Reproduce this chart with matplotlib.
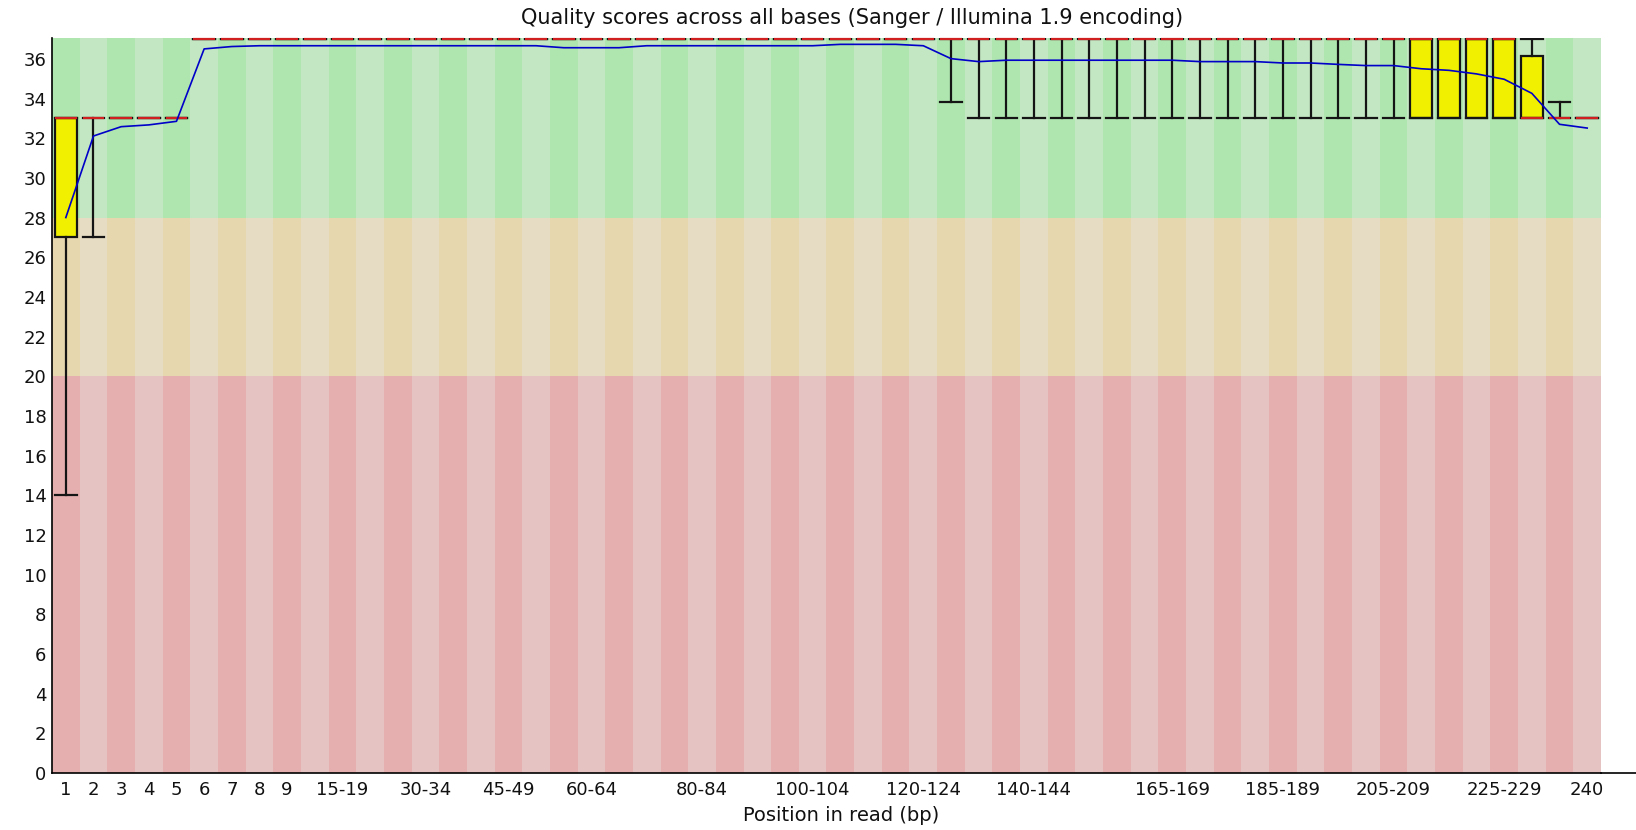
import matplotlib
matplotlib.use('Agg')
import matplotlib.pyplot as plt
from matplotlib.patches import Rectangle
from matplotlib.lines import Line2D

# position groups along the read
positions = ['1', '2', '3', '4', '5', '6', '7', '8', '9',
             '10-14', '15-19', '20-24', '25-29', '30-34', '35-39', '40-44', '45-49',
             '50-54', '55-59', '60-64', '65-69', '70-74', '75-79', '80-84', '85-89',
             '90-94', '95-99', '100-104', '105-109', '110-114', '115-119', '120-124',
             '125-129', '130-134', '135-139', '140-144', '145-149', '150-154', '155-159',
             '160-164', '165-169', '170-174', '175-179', '180-184', '185-189', '190-194',
             '195-199', '200-204', '205-209', '210-214', '215-219', '220-224', '225-229',
             '230-234', '235-239', '240']

# labels that fastqc actually printed on the x axis
shown = ['1', '2', '3', '4', '5', '6', '7', '8', '9', '15-19', '30-34', '45-49', '60-64',
         '80-84', '100-104', '120-124', '140-144', '165-169', '185-189', '205-209',
         '225-229', '240']

mean_q = [28.0, 32.11, 32.58, 32.67, 32.85, 36.5, 36.62, 36.66, 36.66, 36.66,
          36.66, 36.66, 36.66, 36.66, 36.66, 36.66, 36.66, 36.66, 36.56, 36.56,
          36.56, 36.66, 36.66, 36.66, 36.66, 36.66, 36.66, 36.66, 36.73, 36.73,
          36.73, 36.66, 36.01, 35.86, 35.93, 35.93, 35.93, 35.93, 35.93, 35.93,
          35.93, 35.86, 35.86, 35.86, 35.79, 35.79, 35.72, 35.66, 35.66, 35.5,
          35.42, 35.24, 34.97, 34.26, 32.70, 32.51]

median_q = [33] * 5 + [37] * 48 + [33] * 3
lower_q = [27] + [33] * 4 + [37] * 44 + [33] * 7
upper_q = [33] * 5 + [37] * 48 + [36.14, 33, 33]
low_whisk = [14, 27, 33, 33, 33] + [37] * 27 + [33.8] + [33] * 23
high_whisk = [33] * 5 + [37] * 49 + [33.8, 33]

# fastqc colours
good = ('#afe6af', '#c3e6c3')
ok = ('#e6d7af', '#e6dcc3')
bad = ('#e6afaf', '#e6c3c3')

W, H = 1636, 830
fig = plt.figure(figsize=(W / 100, H / 100), dpi=100)
ax = fig.add_axes([52 / W, 1 - 773 / H, (1601 - 52) / W, (773 - 38) / H])

ytop = 37.05
n = len(positions)
for i in range(n):
    k = i % 2
    for lo, hi, cols in [(0, 20, bad), (20, 28, ok), (28, ytop, good)]:
        ax.add_patch(Rectangle((i - 0.5, lo), 1, hi - lo, facecolor=cols[k],
                               edgecolor='none', zorder=0))

bw = 0.78
for i in range(n):
    # yellow box
    if upper_q[i] > lower_q[i]:
        ax.add_patch(Rectangle((i - bw / 2, lower_q[i]), bw, upper_q[i] - lower_q[i],
                               facecolor='#f0f000', edgecolor='#151515', lw=1.6, zorder=2))
    # whiskers
    ax.plot([i, i], [low_whisk[i], lower_q[i]], color='#151515', lw=1.6, zorder=3)
    ax.plot([i, i], [upper_q[i], high_whisk[i]], color='#151515', lw=1.6, zorder=3)
    ax.plot([i - bw / 2, i + bw / 2], [low_whisk[i]] * 2, color='#151515', lw=1.6, zorder=3)
    ax.plot([i - bw / 2, i + bw / 2], [high_whisk[i]] * 2, color='#151515', lw=1.6, zorder=3)
    # median
    ax.plot([i - bw / 2, i + bw / 2], [median_q[i]] * 2, color='#d02020', lw=1.6,
            zorder=4, clip_on=False, solid_capstyle='butt')

ax.plot(range(n), mean_q, color='#0000c8', lw=1.2, zorder=5)

ax.set_xlim(-0.5, n - 0.5)
ax.set_ylim(0, ytop)
ax.set_yticks(range(0, 37, 2))
ax.set_xticks([positions.index(s) for s in shown])
ax.set_xticklabels(shown)
ax.tick_params(axis='both', length=0, labelsize=13, colors='#111111')
ax.tick_params(axis='y', pad=4)
ax.tick_params(axis='x', pad=6)

for s in ['top', 'right']:
    ax.spines[s].set_visible(False)
for s in ['left', 'bottom']:
    ax.spines[s].set_linewidth(1.2)
    ax.spines[s].set_color('black')

# fastqc runs the x axis line out to the image edge
fig.add_artist(Line2D([1601 / W, 1], [1 - 773 / H] * 2, color='black', lw=1.2))

fig.text(852 / W, 1 - 17.7 / H, 'Quality scores across all bases (Sanger / Illumina 1.9 encoding)',
         ha='center', va='center', fontsize=15, color='#111111')
fig.text(841 / W, 1 - 815 / H, 'Position in read (bp)', ha='center', va='center',
         fontsize=14, color='#111111')

fig.savefig('out.png', dpi=100)
